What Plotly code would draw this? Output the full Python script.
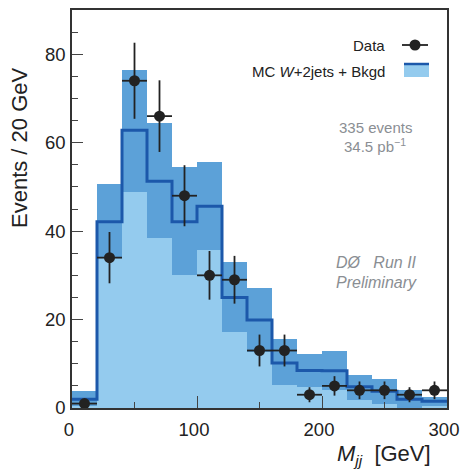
import plotly.graph_objects as go

# ---- data ----
bin_edges = [0, 20, 40, 60, 80, 100, 120, 140, 160, 180, 200, 220, 240, 260, 280, 300]
bin_centers = [10, 30, 50, 70, 90, 110, 130, 150, 170, 190, 210, 230, 250, 270, 290]

data_counts = [1, 34, 74, 66, 48, 30, 29, 13, 13, 3, 5, 4, 4, 3, 4]
data_errors = [1.0, 5.8, 8.6, 8.1, 6.9, 5.5, 5.4, 3.6, 3.6, 1.7, 2.2, 2.0, 2.0, 1.7, 2.0]

mc_central = [2.0, 42.1, 62.8, 51.3, 42.1, 45.6, 25.0, 19.9, 10.2, 8.5, 8.4, 4.8, 3.8, 2.0, 1.5]
mc_upper = [3.8, 50.6, 76.4, 64.4, 54.4, 55.7, 33.0, 27.2, 15.5, 12.3, 12.9, 7.5, 6.6, 4.1, 2.6]
mc_lower = [0.4, 34.0, 48.8, 38.4, 30.1, 35.7, 17.2, 12.6, 5.2, 4.8, 4.1, 1.8, 1.0, 0.0, 0.4]

x_tick_vals = [0, 100, 200, 300]
y_tick_vals = [0, 20, 40, 60, 80]

# ---- styles ----
LIGHT = "rgb(148,203,238)"
DARK = "rgb(92,161,216)"
LINE = "rgb(28,88,170)"
INK = "#222222"
GRAY = "#8a8e93"
FONT = "Liberation Sans, Arial, sans-serif"

W, H = 461, 470
ML, MR, MT, MB = 72, 14, 10, 62
PW, PH = W - ML - MR, H - MT - MB

fig = go.Figure()

fig.add_trace(go.Bar(
    x=bin_centers, y=mc_lower, base=[0] * len(mc_lower), width=20,
    marker=dict(color=LIGHT, line=dict(width=0)), showlegend=False, hoverinfo="skip"))

fig.add_trace(go.Bar(
    x=bin_centers, y=[u - l for u, l in zip(mc_upper, mc_lower)], base=mc_lower, width=20,
    marker=dict(color=DARK, line=dict(width=0)), showlegend=False, hoverinfo="skip"))

fig.add_trace(go.Scatter(
    x=bin_edges, y=mc_central + [mc_central[-1]], mode="lines",
    line=dict(color=LINE, width=3, shape="hv"), showlegend=False, hoverinfo="skip"))

fig.add_trace(go.Scatter(
    x=bin_centers, y=data_counts, mode="markers",
    marker=dict(color=INK, size=11, symbol="circle"),
    error_y=dict(type="data", array=data_errors, color=INK, thickness=1.8, width=0),
    error_x=dict(type="constant", value=10, color=INK, thickness=1.8, width=0),
    showlegend=False, cliponaxis=False))

fig.update_layout(
    width=W, height=H,
    margin=dict(l=ML, r=MR, t=MT, b=MB, autoexpand=False),
    paper_bgcolor="white", plot_bgcolor="white",
    barmode="overlay", bargap=0,
    font=dict(family=FONT, color=INK),
    showlegend=False,
)

fig.update_xaxes(
    range=[0, 300], tickvals=x_tick_vals, ticks="inside", ticklen=12, tickwidth=1.3,
    tickcolor="#444", showline=True, linecolor="#333", linewidth=1.5, mirror=True,
    showgrid=False, zeroline=False, automargin=False,
    ticklabeloverflow="allow", ticklabelshift=-3, ticklabelstandoff=4,
    tickfont=dict(size=18.5, color=INK, family=FONT),
    minor=dict(dtick=50, ticks="inside", ticklen=6, tickcolor="#444", tickwidth=1.3, showgrid=False),
)
fig.update_yaxes(
    range=[0, 90], tickvals=y_tick_vals, ticks="inside", ticklen=11, tickwidth=1.3,
    tickcolor="#444", showline=True, linecolor="#333", linewidth=1.5, mirror=True,
    showgrid=False, zeroline=False, automargin=False,
    ticklabeloverflow="allow", ticklabelstandoff=1,
    tickfont=dict(size=18.5, color=INK, family=FONT),
    minor=dict(dtick=5, ticks="inside", ticklen=6, tickcolor="#444", tickwidth=1.3, showgrid=False),
)

def px(x):
    return (x - ML) / PW

def py(y):
    return (H - MB - y) / PH

ann = []
def add_text(text, x, y, size, color=INK, xanchor="center", angle=0):
    ann.append(dict(text=text, x=px(x), y=py(y), xref="paper", yref="paper",
                    textangle=angle, showarrow=False,
                    font=dict(size=size, family=FONT, color=color),
                    xanchor=xanchor, yanchor="middle"))

add_text("Events / 20 GeV", 20, 148, 22, angle=-90)
add_text("<i>M</i><sub><i>jj</i></sub>  [GeV]", 433, 455, 22, xanchor="right")
add_text("Data", 387, 45, 15, xanchor="right")
add_text("MC <i>W</i>+2jets + Bkgd", 387, 71, 15, xanchor="right")
add_text("335 events", 375, 127, 15, color=GRAY)
add_text("34.5 pb<sup>\u22121</sup>", 375, 145, 15, color=GRAY)
add_text("<i>DØ   Run II</i>", 376, 262, 16, color=GRAY)
add_text("<i>Preliminary</i>", 376, 282, 16, color=GRAY)
fig.update_layout(annotations=ann)

shapes = []
# Data legend symbol
shapes.append(dict(type="line", xref="paper", yref="paper", x0=px(402), x1=px(428), y0=py(45), y1=py(45),
                   line=dict(color=INK, width=1.8)))
shapes.append(dict(type="circle", xref="paper", yref="paper", x0=px(409.5), x1=px(420.5), y0=py(50.5), y1=py(39.5),
                   fillcolor=INK, line=dict(color=INK, width=0)))
# MC legend symbol
shapes.append(dict(type="rect", xref="paper", yref="paper", x0=px(404), x1=px(429), y0=py(77), y1=py(63),
                   fillcolor=LIGHT, line=dict(width=0)))
shapes.append(dict(type="line", xref="paper", yref="paper", x0=px(404), x1=px(429), y0=py(64), y1=py(64),
                   line=dict(color=LINE, width=2.5)))
fig.update_layout(shapes=shapes)

fig.write_html("out.html", config={"displayModeBar": False},
               post_script="document.body.style.margin='0';document.body.style.overflow='hidden';")
